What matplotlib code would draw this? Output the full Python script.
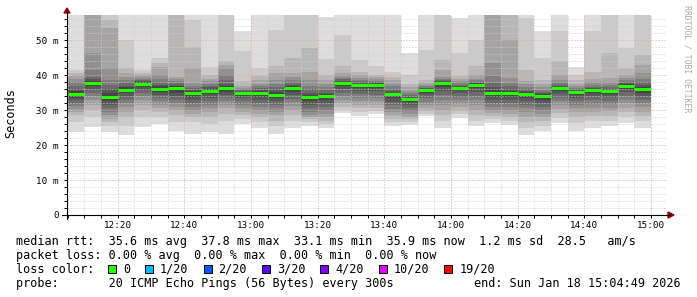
#!/usr/bin/env python3

# SmokePing style latency graph: grey smoke of 20 pings per 5 minute step
# plus the median line coloured by packet loss.
import pandas as pd
import matplotlib
matplotlib.use('Agg')
import matplotlib.pyplot as plt
import matplotlib.dates as mdates
from matplotlib.lines import Line2D
from matplotlib.patches import Polygon, Rectangle

# End time of every 5 minute step (12:10 ... 15:00)
times = pd.date_range('2026-01-18 12:10', '2026-01-18 15:00', freq='5min')
graph_end = pd.Timestamp('2026-01-18 15:04:49')

# Median rtt per step (ms), all steps had 0/20 loss
median = [34.5, 37.8, 33.6, 35.7, 37.4, 36.1, 36.3, 34.8, 35.5, 36.3,
          34.8, 34.9, 34.4, 36.2, 33.6, 34.0, 37.7, 37.1, 37.2, 34.5,
          33.1, 35.8, 37.6, 36.3, 37.2, 34.9, 34.9, 34.6, 34.0, 36.3,
          35.2, 35.7, 35.4, 36.9, 35.9]

# The 20 sorted ping times per step (ms); values over the top are cut off
pings = [
    [23.6, 26.5, 28.5, 29.5, 30.3, 31.2, 32.0, 32.8, 33.5, 34.2, 34.8, 35.3, 36.0, 37.0, 38.0, 39.0, 39.8, 40.5, 41.5, 60],
    [25.2, 28.0, 30.0, 31.5, 33.0, 34.0, 35.0, 36.0, 37.0, 37.6, 38.0, 38.4, 38.8, 39.5, 41.4, 46.2, 60, 60, 60, 60],
    [23.8, 25.5, 26.5, 27.5, 28.5, 29.5, 30.5, 31.5, 32.5, 33.2, 34.0, 35.0, 36.0, 37.1, 38.5, 41.9, 53.3, 55.7, 60, 60],
    [22.9, 25.5, 28.0, 29.5, 31.0, 32.0, 33.0, 34.0, 34.8, 35.4, 36.0, 36.5, 37.0, 37.6, 38.5, 39.5, 40.5, 41.9, 50.0, 60],
    [25.2, 28.0, 30.0, 31.5, 33.0, 34.0, 35.0, 35.8, 36.6, 37.2, 37.6, 37.9, 38.2, 38.6, 39.0, 39.4, 40.0, 40.6, 41.5, 60],
    [26.0, 28.0, 29.5, 30.5, 31.5, 32.5, 33.5, 34.4, 35.2, 35.8, 36.4, 36.8, 37.2, 38.0, 39.0, 40.0, 42.4, 43.5, 44.8, 60],
    [24.1, 26.5, 28.5, 30.0, 31.0, 32.0, 33.0, 34.0, 35.0, 36.0, 36.6, 36.9, 37.2, 37.6, 38.2, 38.8, 39.5, 60, 60, 60],
    [23.2, 26.5, 28.0, 29.0, 30.0, 31.0, 32.0, 33.0, 33.8, 34.5, 35.1, 35.3, 35.8, 36.2, 36.8, 37.6, 42.0, 48.1, 55.7, 60],
    [23.8, 26.0, 28.0, 29.5, 30.5, 31.5, 32.5, 33.5, 34.5, 35.2, 35.8, 36.1, 36.5, 37.0, 37.5, 38.2, 39.0, 40.0, 42.4, 60],
    [23.2, 27.0, 29.0, 30.5, 31.5, 32.5, 33.5, 34.4, 35.2, 36.0, 36.6, 37.0, 37.5, 38.5, 40.0, 42.0, 43.0, 44.0, 60, 60],
    [26.0, 27.5, 28.5, 29.5, 30.5, 31.5, 32.5, 33.3, 34.0, 34.6, 35.0, 35.1, 35.3, 35.6, 36.0, 36.4, 37.0, 38.2, 46.8, 52.5],
    [24.8, 26.5, 28.0, 29.0, 30.0, 31.0, 32.0, 33.0, 33.8, 34.6, 35.2, 35.4, 35.7, 36.2, 36.8, 37.5, 38.5, 39.6, 42.0, 60],
    [23.2, 25.5, 27.0, 28.5, 29.5, 30.5, 31.5, 32.5, 33.3, 34.1, 34.7, 35.2, 35.8, 36.5, 37.5, 38.5, 40.5, 42.5, 53.0, 60],
    [25.0, 27.0, 28.5, 30.0, 31.2, 32.2, 33.2, 34.2, 35.2, 35.9, 36.5, 36.8, 37.2, 37.8, 38.5, 39.3, 40.6, 44.9, 60, 60],
    [25.3, 26.5, 27.3, 28.0, 28.7, 29.5, 30.5, 31.5, 32.5, 33.3, 33.9, 34.4, 35.0, 36.0, 37.0, 38.5, 41.0, 47.7, 60, 60],
    [24.9, 26.0, 27.0, 28.0, 29.0, 30.0, 31.0, 32.0, 33.0, 33.7, 34.3, 34.6, 35.0, 35.6, 36.5, 37.5, 38.5, 40.0, 44.5, 56.5],
    [29.1, 30.0, 31.0, 32.0, 33.0, 34.0, 35.0, 36.0, 36.8, 37.5, 37.9, 38.1, 38.4, 38.8, 39.2, 39.7, 40.5, 42.5, 51.5, 60],
    [28.2, 29.3, 30.5, 31.5, 32.5, 33.5, 34.5, 35.4, 36.2, 36.9, 37.3, 37.5, 37.8, 38.2, 38.6, 39.2, 40.0, 41.0, 44.4, 60],
    [28.9, 29.7, 30.5, 31.5, 32.5, 33.4, 34.4, 35.4, 36.3, 37.0, 37.4, 37.6, 37.8, 38.1, 38.4, 38.8, 39.3, 40.1, 42.5, 60],
    [25.3, 26.5, 27.5, 28.5, 29.5, 30.4, 31.4, 32.4, 33.4, 34.2, 34.8, 35.0, 35.5, 36.0, 36.8, 37.5, 38.5, 39.3, 41.0, 60],
    [25.8, 26.6, 27.3, 28.0, 28.8, 29.6, 30.5, 31.4, 32.2, 32.9, 33.3, 33.5, 33.8, 34.2, 34.8, 35.5, 36.5, 37.5, 40.1, 46.3],
    [28.2, 29.0, 29.8, 30.6, 31.5, 32.4, 33.3, 34.2, 35.0, 35.6, 35.9, 36.0, 36.2, 36.4, 36.8, 37.2, 37.8, 38.7, 47.2, 60],
    [25.0, 26.8, 28.5, 30.0, 31.5, 33.0, 34.3, 35.5, 36.5, 37.4, 37.8, 38.0, 38.2, 38.5, 38.9, 39.5, 41.5, 44.4, 60, 60],
    [27.7, 28.8, 29.8, 30.8, 31.8, 32.8, 33.8, 34.8, 35.6, 36.1, 36.5, 36.7, 36.9, 37.2, 37.6, 38.2, 38.8, 39.6, 46.3, 56.3],
    [25.5, 27.0, 28.5, 30.0, 31.5, 32.8, 34.0, 35.2, 36.2, 37.0, 37.4, 37.6, 37.8, 38.1, 38.5, 39.0, 40.0, 42.5, 50.1, 60],
    [26.3, 27.4, 28.4, 29.2, 30.0, 31.0, 32.0, 33.0, 33.8, 34.6, 35.2, 35.7, 36.5, 37.8, 39.6, 43.4, 60, 60, 60, 60],
    [25.6, 26.8, 28.0, 29.0, 30.0, 31.0, 32.0, 32.9, 33.8, 34.6, 35.2, 35.5, 36.0, 36.8, 37.8, 39.1, 50.1, 60, 60, 60],
    [22.9, 25.0, 26.5, 28.0, 29.3, 30.5, 31.5, 32.5, 33.5, 34.3, 34.9, 35.1, 35.5, 36.0, 36.6, 37.5, 38.2, 41.5, 56.3, 60],
    [23.9, 25.5, 27.0, 28.0, 29.0, 30.0, 31.0, 32.0, 33.0, 33.7, 34.3, 34.5, 34.8, 35.2, 35.8, 36.5, 37.5, 38.7, 44.9, 52.5],
    [26.3, 27.8, 29.2, 30.3, 31.4, 32.5, 33.5, 34.5, 35.4, 36.1, 36.5, 36.7, 37.0, 37.4, 38.0, 38.7, 40.0, 43.9, 52.5, 60],
    [23.9, 26.2, 28.0, 29.3, 30.5, 31.5, 32.5, 33.5, 34.3, 35.0, 35.3, 35.4, 35.6, 35.9, 36.3, 36.8, 37.5, 38.5, 40.1, 42.2],
    [24.9, 26.8, 28.3, 29.5, 30.7, 31.8, 32.9, 33.9, 34.8, 35.5, 35.9, 36.0, 36.2, 36.6, 37.2, 38.0, 39.0, 41.0, 52.5, 60],
    [25.3, 27.0, 28.4, 29.6, 30.7, 31.7, 32.7, 33.6, 34.5, 35.2, 35.6, 35.8, 36.1, 36.6, 37.2, 38.0, 39.1, 46.3, 60, 60],
    [26.3, 28.0, 29.5, 30.7, 31.9, 33.0, 34.1, 35.1, 36.0, 36.7, 37.1, 37.3, 37.6, 38.0, 38.5, 39.2, 40.1, 42.0, 47.7, 60],
    [25.0, 26.8, 28.2, 29.5, 30.8, 32.0, 33.0, 34.0, 35.0, 35.7, 36.3, 36.6, 37.2, 38.0, 39.0, 40.5, 43.0, 45.8, 60, 60],
]

xtick_labels = ['12:20', '12:40', '13:00', '13:20', '13:40', '14:00', '14:20', '14:40', '15:00']
yticks = [0, 10, 20, 30, 40, 50]
ytick_labels = ['0', '10 m', '20 m', '30 m', '40 m', '50 m']

loss_labels = ['0', '1/20', '2/20', '3/20', '4/20', '10/20', '19/20']
loss_colors = ['#26ff00', '#00b8ff', '#0059ff', '#5e00ff', '#7e00ff', '#dd00ff', '#ff0000']

stats_rtt = 'median rtt:  35.6 ms avg  37.8 ms max  33.1 ms min  35.9 ms now  1.2 ms sd  28.5   am/s'
stats_loss = 'packet loss: 0.00 % avg  0.00 % max  0.00 % min  0.00 % now'
probe_text = 'probe:       20 ICMP Echo Pings (56 Bytes) every 300s'
end_text = 'end: Sun Jan 18 15:04:49 2026'

W, H = 697, 297
MONO = 'DejaVu Sans Mono'


def fx(x):
    return x / W


def fy(y):
    return 1 - y / H


fig = plt.figure(figsize=(W / 100, H / 100), dpi=100)
ax = fig.add_axes([fx(67), fy(215), 600 / W, 200 / H])

step = pd.Timedelta('5min')
left = mdates.date2num(times - step)
width = 5 / 1440.0

# smoke: band i covers ping i .. ping (21-i), darker towards the middle
half = 10
for ibot in range(1, half + 1):
    g = int(190 / half * (half - ibot)) + 50
    col = '#%02x%02x%02x' % (g, g, g)
    lo = [p[ibot - 1] for p in pings]
    hi = [p[20 - ibot] for p in pings]
    ax.bar(left, [h - l for h, l in zip(hi, lo)], bottom=lo, width=width,
           align='edge', color=col, linewidth=0, antialiased=False, zorder=1)

ax.hlines(median, left, left + width, colors=loss_colors[0], linewidth=2.2, zorder=4)

ax.set_xlim(mdates.date2num(graph_end - pd.Timedelta('3h')), mdates.date2num(graph_end))
ax.set_ylim(0, 200 / 3.5)

xt = [mdates.date2num(pd.Timestamp('2026-01-18 ' + t)) for t in xtick_labels]
ax.set_xticks(xt)
ax.set_xticklabels(xtick_labels)
ax.xaxis.set_minor_locator(mdates.MinuteLocator(byminute=range(0, 60, 5)))
ax.set_yticks(yticks)
ax.set_yticklabels(ytick_labels)
ax.set_yticks([v for v in range(0, 58, 2)], minor=True)

ax.set_axisbelow(False)
ax.grid(which='minor', color='#cfcfcf', linewidth=0.72, linestyle=(0, (1, 2)))
ax.grid(which='major', color='#e9a3a3', linewidth=0.72, linestyle=(0, (1, 2)))

for s in ax.spines.values():
    s.set_visible(False)
ax.tick_params(which='both', length=2, width=0.7, color='#000000', direction='out')
ax.tick_params(axis='x', labelsize=6.7, pad=2.5)
ax.tick_params(axis='y', labelsize=6.7, pad=4)
for lab in ax.get_xticklabels() + ax.get_yticklabels():
    lab.set_family(MONO)

# axis lines with arrows
axc = '#000000'
fig.add_artist(Line2D([fx(62), fx(670)], [fy(215), fy(215)], color=axc, lw=0.8))
fig.add_artist(Line2D([fx(67), fx(67)], [fy(219), fy(12)], color=axc, lw=0.8))
arr = '#8b0000'
fig.add_artist(Polygon([(fx(64), fy(13)), (fx(70), fy(13)), (fx(67), fy(8))],
                       closed=True, color=arr, transform=fig.transFigure))
fig.add_artist(Polygon([(fx(668), fy(212)), (fx(668), fy(218)), (fx(674), fy(215))],
                       closed=True, color=arr, transform=fig.transFigure))

fig.text(fx(11), fy(113), 'Seconds', rotation=90, fontsize=8.5, family=MONO,
         ha='center', va='center')
fig.text(fx(687), fy(5), 'RRDTOOL / TOBI OETIKER', rotation=270, fontsize=5.9,
         family=MONO, color='#aaaaaa', ha='center', va='top')

# legend block
fs = 8.5
cw = 7.1
fig.text(fx(16), fy(241.5), stats_rtt, fontsize=fs, family=MONO, va='center')
fig.text(fx(16), fy(255.5), stats_loss, fontsize=fs, family=MONO, va='center')
fig.text(fx(16), fy(269.5), 'loss color:', fontsize=fs, family=MONO, va='center')
x = 108
for lab, col in zip(loss_labels, loss_colors):
    fig.add_artist(Rectangle((fx(x), fy(273)), 8 / W, 8 / H, facecolor=col,
                             edgecolor='black', linewidth=0.7, transform=fig.transFigure))
    fig.text(fx(x + 15), fy(269.5), lab, fontsize=fs, family=MONO, va='center')
    x = x + 15 + len(lab) * cw + 15
fig.text(fx(16), fy(283.5), probe_text, fontsize=fs, family=MONO, va='center')
fig.text(fx(681), fy(283.5), end_text, fontsize=fs, family=MONO, va='center', ha='right')

fig.savefig('out.png', dpi=100)
